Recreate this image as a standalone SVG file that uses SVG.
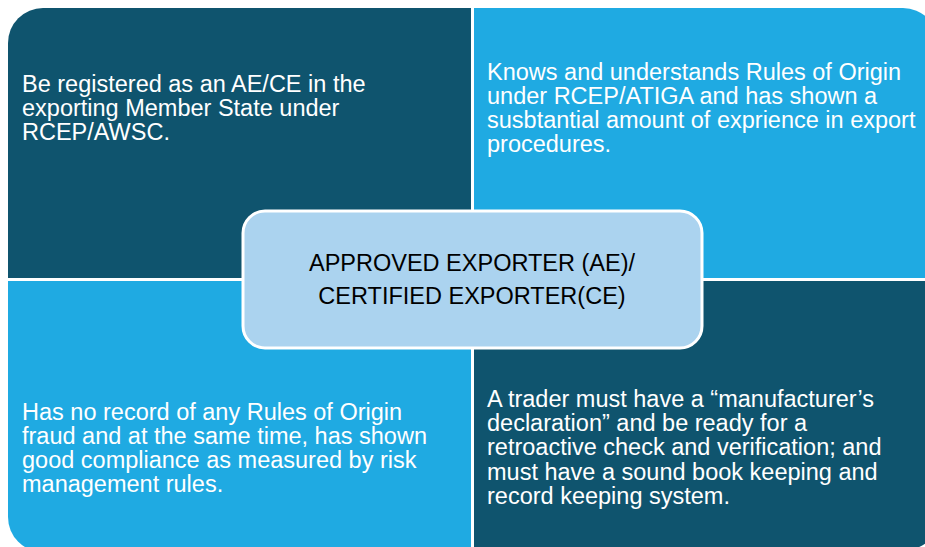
<svg xmlns="http://www.w3.org/2000/svg" width="925" height="547" viewBox="0 0 925 547">
<style>
.dark{fill:#0F546E}
.light{fill:#1FAAE2}
.t{font-family:"Liberation Sans",Arial,sans-serif;font-size:23.5px;fill:#FFFFFF}
.c{font-family:"Liberation Sans",Arial,sans-serif;font-size:23.5px;fill:#000000;text-anchor:middle}
</style>
<rect width="925" height="547" fill="#FFFFFF"/>
<g id="q-top-left">
<path class="dark" d="M8,43 A35,35 0 0 1 43,8 L471,8 L471,278 L8,278 Z"/>
<text class="t" x="22" y="92">Be registered as an AE/CE in the</text>
<text class="t" x="22" y="116">exporting Member State under</text>
<text class="t" x="22" y="140">RCEP/AWSC.</text>
</g>
<g id="q-top-right">
<path class="light" d="M474,8 L903,8 A35,35 0 0 1 938,43 L938,278 L474,278 Z"/>
<text class="t" x="487" y="80">Knows and understands Rules of Origin</text>
<text class="t" x="487" y="104">under RCEP/ATIGA and has shown a</text>
<text class="t" x="487" y="128">susbtantial amount of exprience in export</text>
<text class="t" x="487" y="152">procedures.</text>
</g>
<g id="q-bottom-left">
<path class="light" d="M8,281 L471,281 L471,552 L43,552 A35,35 0 0 1 8,517 Z"/>
<text class="t" x="22" y="420">Has no record of any Rules of Origin</text>
<text class="t" x="22" y="444">fraud and at the same time, has shown</text>
<text class="t" x="22" y="468">good compliance as measured by risk</text>
<text class="t" x="22" y="492">management rules.</text>
</g>
<g id="q-bottom-right">
<path class="dark" d="M474,281 L940,281 L940,515 A35,35 0 0 1 905,550 L474,550 Z"/>
<text class="t" x="487" y="407">A trader must have a “manufacturer’s</text>
<text class="t" x="487" y="431">declaration” and be ready for a</text>
<text class="t" x="487" y="455">retroactive check and verification; and</text>
<text class="t" x="487" y="480">must have a sound book keeping and</text>
<text class="t" x="487" y="504">record keeping system.</text>
</g>
<g id="center">
<rect x="243" y="211" width="459" height="137" rx="22" ry="22" fill="#ABD3EF" stroke="#FFFFFF" stroke-width="3"/>
<text class="c" x="472" y="271">APPROVED EXPORTER (AE)/</text>
<text class="c" x="472" y="304">CERTIFIED EXPORTER(CE)</text>
</g>
<g id="connectors"/>
</svg>
